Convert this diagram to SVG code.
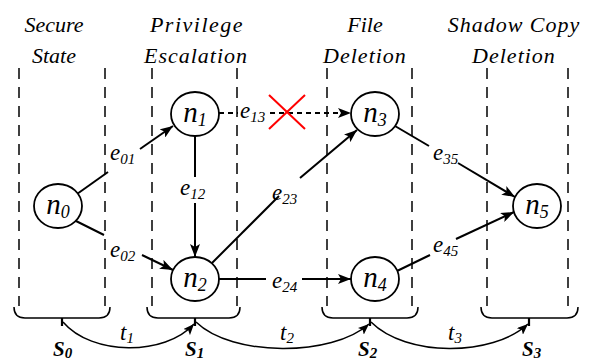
<svg xmlns="http://www.w3.org/2000/svg" width="592" height="361" viewBox="0 0 592 361">
<defs>
<marker id="arr" markerUnits="userSpaceOnUse" markerWidth="14" markerHeight="10" refX="13" refY="5" orient="auto">
<path d="M0,0 L13,5 L0,10 L3,5 Z" fill="#000"/>
</marker>
<marker id="arr2" markerUnits="userSpaceOnUse" markerWidth="12" markerHeight="9" refX="11" refY="4.5" orient="auto">
<path d="M0,0 L11,4.5 L0,9 L2.5,4.5 Z" fill="#000"/>
</marker>
</defs>
<rect width="592" height="361" fill="#fff"/>

<g id="headers" font-family="Times New Roman" font-style="italic" font-size="22" text-anchor="middle">
<text font-family="Times New Roman" x="54" y="32">Secure</text>
<text font-family="Times New Roman" x="54" y="63">State</text>
<text font-family="Times New Roman" x="197" y="32" letter-spacing="1.5">Privilege</text>
<text font-family="Times New Roman" x="196" y="63" letter-spacing="1">Escalation</text>
<text font-family="Times New Roman" x="365" y="32">File</text>
<text font-family="Times New Roman" x="365" y="63" letter-spacing="1">Deletion</text>
<text font-family="Times New Roman" x="514" y="32" letter-spacing="1">Shadow Copy</text>
<text font-family="Times New Roman" x="514" y="63" letter-spacing="1">Deletion</text>
</g>

<g id="lanes" stroke="#000" stroke-width="1.5" stroke-dasharray="11 8" fill="none">
<line x1="19" y1="68" x2="19" y2="306"/>
<line x1="105" y1="68" x2="105" y2="306"/>
<line x1="152" y1="68" x2="152" y2="306"/>
<line x1="237" y1="68" x2="237" y2="306"/>
<line x1="327" y1="68" x2="327" y2="306"/>
<line x1="412" y1="68" x2="412" y2="306"/>
<line x1="487" y1="68" x2="487" y2="306"/>
<line x1="568" y1="68" x2="568" y2="306"/>
</g>

<g id="states">
<g stroke="#000" stroke-width="1.5" fill="none">
<path d="M14,307 Q14,318 25,318 L99,318 Q110,318 110,307"/>
<path d="M147,307 Q147,318 158,318 L229,318 Q240,318 240,307"/>
<path d="M322,307 Q322,318 333,318 L407,318 Q418,318 418,307"/>
<path d="M481,307 Q481,318 492,318 L567,318 Q578,318 578,307"/>
</g>
<g stroke="#000" stroke-width="2.2">
<line x1="62" y1="318" x2="62" y2="326"/>
<line x1="195" y1="318" x2="195" y2="326"/>
<line x1="370" y1="318" x2="370" y2="326"/>
<line x1="529" y1="318" x2="529" y2="326"/>
</g>
<text font-family="Times New Roman" font-style="italic" font-weight="bold" font-size="21" x="53" y="356">S<tspan font-family="Times New Roman" font-size="15" dy="2">0</tspan></text>
<text font-family="Times New Roman" font-style="italic" font-weight="bold" font-size="21" x="185" y="356">S<tspan font-family="Times New Roman" font-size="15" dy="2">1</tspan></text>
<text font-family="Times New Roman" font-style="italic" font-weight="bold" font-size="21" x="358" y="356">S<tspan font-family="Times New Roman" font-size="15" dy="2">2</tspan></text>
<text font-family="Times New Roman" font-style="italic" font-weight="bold" font-size="21" x="522" y="356">S<tspan font-family="Times New Roman" font-size="15" dy="2">3</tspan></text>
</g>

<g id="transitions">
<g stroke="#000" stroke-width="1.5" fill="none">
<path d="M63,322 C92,356 165,356 194,324" marker-end="url(#arr2)"/>
<path d="M196,322 C232,357 332,357 369,324" marker-end="url(#arr2)"/>
<path d="M371,322 C406,357 492,357 528,324" marker-end="url(#arr2)"/>
</g>
<text font-family="Times New Roman" font-style="italic" font-size="23" x="120" y="340">t<tspan font-family="Times New Roman" font-size="15" dy="3">1</tspan></text>
<text font-family="Times New Roman" font-style="italic" font-size="23" x="280" y="340">t<tspan font-family="Times New Roman" font-size="15" dy="3">2</tspan></text>
<text font-family="Times New Roman" font-style="italic" font-size="23" x="448" y="340">t<tspan font-family="Times New Roman" font-size="15" dy="3">3</tspan></text>
</g>

<g id="connectors">
<g stroke="#000" stroke-width="2" fill="none">
<line x1="77" y1="194" x2="108" y2="172"/>
<line x1="140" y1="149" x2="173" y2="126" marker-end="url(#arr)"/>
<line x1="76" y1="221" x2="104" y2="235"/>
<line x1="142" y1="255" x2="173" y2="270" marker-end="url(#arr)"/>
<line x1="195" y1="135" x2="195" y2="177"/>
<line x1="195" y1="203" x2="195" y2="257" marker-end="url(#arr)"/>
<line x1="212" y1="263" x2="279" y2="196"/>
<line x1="300" y1="178" x2="357" y2="130" marker-end="url(#arr)"/>
<line x1="219" y1="279" x2="266" y2="279"/>
<line x1="302" y1="279" x2="351" y2="279" marker-end="url(#arr)"/>
<line x1="219" y1="113" x2="238" y2="113" stroke-dasharray="5 4"/>
<line x1="270" y1="113" x2="351" y2="113" stroke-dasharray="5 4" marker-end="url(#arr)"/>
<line x1="395" y1="126" x2="429" y2="146"/>
<line x1="458" y1="163" x2="515" y2="197" marker-end="url(#arr)"/>
<line x1="397" y1="271" x2="430" y2="255"/>
<line x1="456" y1="239" x2="514" y2="212" marker-end="url(#arr)"/>
</g>
<g stroke="#ff0000" stroke-width="2">
<line x1="269" y1="95" x2="305" y2="129"/>
<line x1="305" y1="95" x2="269" y2="129"/>
</g>
<text font-family="Times New Roman" font-style="italic" font-size="23" x="110" y="160">e<tspan font-family="Times New Roman" font-size="15" dy="4">01</tspan></text>
<text font-family="Times New Roman" font-style="italic" font-size="23" x="110" y="257">e<tspan font-family="Times New Roman" font-size="15" dy="4">02</tspan></text>
<text font-family="Times New Roman" font-style="italic" font-size="23" x="180" y="195">e<tspan font-family="Times New Roman" font-size="15" dy="4">12</tspan></text>
<text font-family="Times New Roman" font-style="italic" font-size="23" x="272" y="200">e<tspan font-family="Times New Roman" font-size="15" dy="4">23</tspan></text>
<text font-family="Times New Roman" font-style="italic" font-size="23" x="272" y="288">e<tspan font-family="Times New Roman" font-size="15" dy="4">24</tspan></text>
<text font-family="Times New Roman" font-style="italic" font-size="23" x="240" y="118">e<tspan font-family="Times New Roman" font-size="15" dy="4">13</tspan></text>
<text font-family="Times New Roman" font-style="italic" font-size="23" x="433" y="160">e<tspan font-family="Times New Roman" font-size="15" dy="4">35</tspan></text>
<text font-family="Times New Roman" font-style="italic" font-size="23" x="433" y="252">e<tspan font-family="Times New Roman" font-size="15" dy="4">45</tspan></text>
</g>

<g id="n0"><ellipse cx="58" cy="206" rx="24" ry="22" fill="#fff" stroke="#000" stroke-width="1.8"/><text font-family="Times New Roman" font-style="italic" font-size="29" text-anchor="middle" x="58" y="214">n<tspan font-family="Times New Roman" font-size="18" dy="4">0</tspan></text></g>
<g id="n1"><ellipse cx="195" cy="114" rx="24" ry="22" fill="#fff" stroke="#000" stroke-width="1.8"/><text font-family="Times New Roman" font-style="italic" font-size="29" text-anchor="middle" x="195" y="122">n<tspan font-family="Times New Roman" font-size="18" dy="4">1</tspan></text></g>
<g id="n2"><ellipse cx="195" cy="279" rx="24" ry="22" fill="#fff" stroke="#000" stroke-width="1.8"/><text font-family="Times New Roman" font-style="italic" font-size="29" text-anchor="middle" x="195" y="287">n<tspan font-family="Times New Roman" font-size="18" dy="4">2</tspan></text></g>
<g id="n3"><ellipse cx="375" cy="114" rx="24" ry="22" fill="#fff" stroke="#000" stroke-width="1.8"/><text font-family="Times New Roman" font-style="italic" font-size="29" text-anchor="middle" x="375" y="122">n<tspan font-family="Times New Roman" font-size="18" dy="4">3</tspan></text></g>
<g id="n4"><ellipse cx="375" cy="279" rx="24" ry="22" fill="#fff" stroke="#000" stroke-width="1.8"/><text font-family="Times New Roman" font-style="italic" font-size="29" text-anchor="middle" x="375" y="287">n<tspan font-family="Times New Roman" font-size="18" dy="4">4</tspan></text></g>
<g id="n5"><ellipse cx="537" cy="206" rx="24" ry="22" fill="#fff" stroke="#000" stroke-width="1.8"/><text font-family="Times New Roman" font-style="italic" font-size="29" text-anchor="middle" x="537" y="214">n<tspan font-family="Times New Roman" font-size="18" dy="4">5</tspan></text></g>
</svg>
